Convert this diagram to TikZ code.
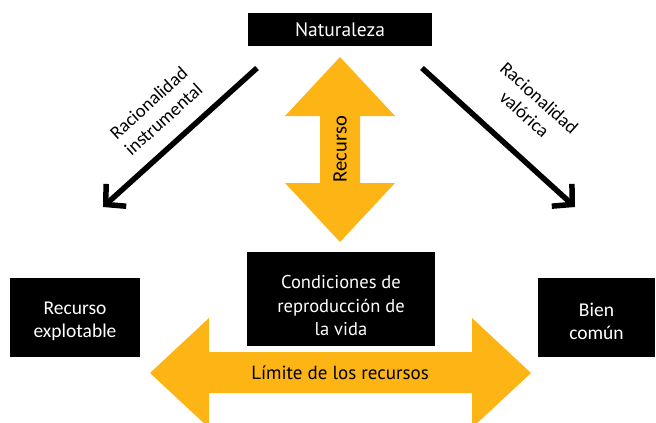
\documentclass[tikz,border=0pt]{standalone}
\usepackage{fontspec}
\setmainfont{Carlito}
\newfontfamily\alegfont{PT Sans}
\usetikzlibrary{arrows.meta}
\definecolor{arrowyel}{HTML}{FDB515}
\tikzset{
  blackbox/.style={fill=black,text=white,inner sep=0pt,align=center},
  boxtext/.style={text=white,inner sep=0pt,align=center},
  yelarrow/.style={fill=arrowyel,draw=none},
  ratarrow/.style={line width=5.5pt,-{Straight Barb[length=14pt,width=30pt,line width=5.5pt]}},
  ratlabel/.style={align=center,font=\fontsize{18.7}{22}\selectfont,inner sep=0pt}
}
\begin{document}
\begin{tikzpicture}[x=1pt,y=-1pt]
\useasboundingbox (0,0) rectangle (656,423);
\clip (0,0) rectangle (656,423);
% vertical yellow arrow
\fill[yelarrow] (340,57) -- (395,116) -- (360,116) -- (360,183) -- (395,183) -- (340,242)
  -- (285,183) -- (320,183) -- (320,116) -- (285,116) -- cycle;
\node[rotate=90,font=\fontsize{20.5}{22}\selectfont,inner sep=0pt] (recurso) at (340,149) {Recurso};
% horizontal yellow arrow
\fill[yelarrow] (150,373) -- (209,318) -- (209,352) -- (472,352) -- (472,318) -- (531,373)
  -- (472,428) -- (472,393) -- (209,393) -- (209,428) -- cycle;
\node[font=\alegfont\fontsize{19}{22}\selectfont,inner sep=0pt] (limite) at (340,373) {Límite de los recursos};
% boxes
\node[blackbox,minimum width=184,minimum height=33,font=\alegfont\fontsize{19.5}{22}\selectfont] (nat) at (340,29.5) {Naturaleza};
\node[blackbox,minimum width=188,minimum height=94] (cond) at (341,299) {};
\node[boxtext,font=\alegfont\fontsize{18.5}{23.5}\selectfont] (condtext) at (341,306) {Condiciones de\\reproducción de\\la vida};
\node[blackbox,minimum width=130,minimum height=79] (expl) at (75,317.5) {};
\node[boxtext,font=\fontsize{19.5}{23}\selectfont] (expltext) at (75,321) {Recurso\\explotable};
\node[blackbox,minimum width=117,minimum height=79] (bien) at (596.5,317.5) {};
\node[boxtext,font=\fontsize{19.5}{23}\selectfont] (bientext) at (596.5,321) {Bien\\común};
% black arrows
\coordinate (ls) at (257,68);
\coordinate (le) at (103,207);
\coordinate (rs) at (422,68);
\coordinate (re) at (575,207);
\draw[ratarrow] (ls) -- (le);
\draw[ratarrow] (rs) -- (re);
\node[ratlabel,rotate=42] (lraz) at (156,111) {Racionalidad\\instrumental};
\node[ratlabel,rotate=-42] (rraz) at (532,106) {Racionalidad\\valórica};
\end{tikzpicture}
\end{document}
